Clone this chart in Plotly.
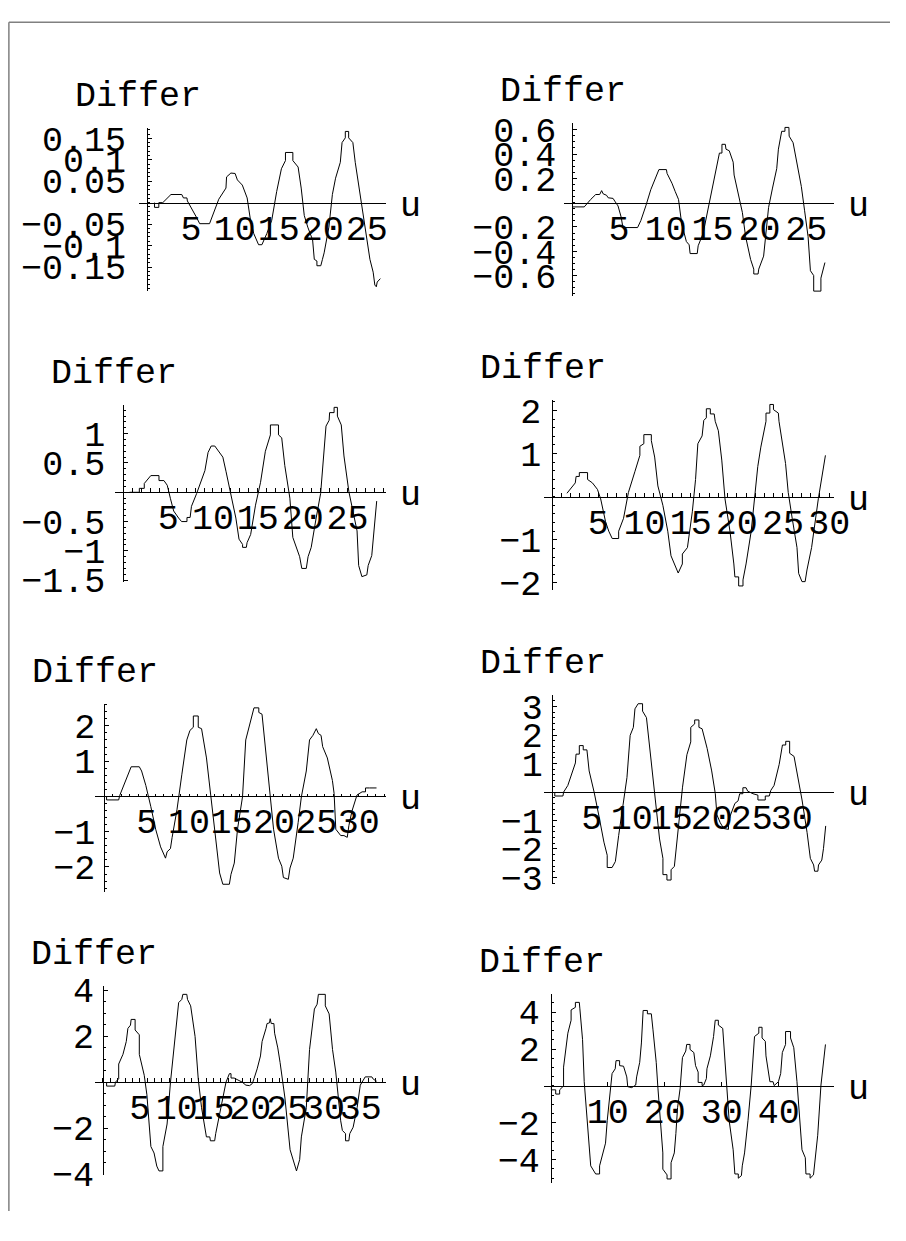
import plotly.graph_objects as go

# ── curve readings for the eight "Differ vs u" panels ───────────────
u1 = [0.86, 0.86, 1.35, 1.35, 1.8, 2.73, 3.96, 4.15, 4.55, 4.6, 5.63, 6.0, 7.12, 7.87, 8.17,
      8.99, 9.06, 9.55, 10.03, 10.29, 10.85, 11.4, 11.78, 12.15, 12.7, 13.08, 13.64, 14.2,
      14.76, 15.3, 15.76, 15.76, 16.6, 16.6, 17.2, 17.55, 17.9, 18.3, 18.85, 19.04, 19.34,
      19.34, 19.78, 19.97, 20.16, 20.7, 21.1, 21.46, 22.0, 22.2, 22.57, 22.57, 22.95, 22.95,
      23.43, 23.7, 24.25, 24.8, 25.37, 25.74, 25.93, 26.1, 26.2, 26.56]
d1 = [0, -0.011, -0.011, 0, 0, 0.019, 0.019, 0.011, 0.011, 0.004, -0.034, -0.049, -0.049,
      -0.011, 0.008, 0.034, 0.060, 0.069, 0.068, 0.053, 0.041, 0.011, -0.041, -0.072, -0.098,
      -0.098, -0.072, -0.041, 0.026, 0.079, 0.098, 0.117, 0.117, 0.098, 0.083, 0.034, -0.030,
      -0.057, -0.087, -0.132, -0.136, -0.147, -0.147, -0.132, -0.117, -0.057, 0.019, 0.057,
      0.094, 0.140, 0.151, 0.166, 0.166, 0.151, 0.140, 0.094, 0.019, -0.057, -0.132, -0.162,
      -0.192, -0.196, -0.185, -0.177]

u2 = [0, 1.29, 1.99, 2.52, 2.94, 3.15, 3.32, 3.67, 3.85, 4.37, 4.55, 4.9, 5.24, 5.42, 6.99,
      7.34, 7.87, 8.4, 9.27, 10.07, 10.14, 10.66, 11.0, 11.36, 11.7, 12.2, 12.5, 12.6, 13.36,
      13.46, 13.99, 14.5, 14.86, 15.2, 15.55, 15.73, 16.0, 16.0, 16.36, 16.43, 16.78, 17.2,
      17.3, 17.83, 18.18, 18.53, 19.06, 19.4, 19.4, 19.86, 19.93, 20.45, 20.98, 21.4, 21.85,
      22.03, 22.38, 22.73, 22.73, 23.15, 23.18, 23.6, 23.95, 24.48, 24.83, 25.2, 25.45, 25.8,
      25.8, 26.57, 26.57, 27.0]
d2 = [-0.035, -0.035, 0.027, 0.067, 0.067, 0.099, 0.072, 0.061, 0.04, 0.035, 0.013, -0.027,
      -0.12, -0.205, -0.205, -0.147, -0.027, 0.107, 0.272, 0.272, 0.24, 0.16, 0.093, 0.027,
      -0.173, -0.32, -0.347, -0.419, -0.419, -0.355, -0.253, -0.053, 0.067, 0.227, 0.333,
      0.408, 0.408, 0.48, 0.48, 0.44, 0.427, 0.333, 0.227, 0.04, -0.08, -0.28, -0.467, -0.547,
      -0.587, -0.587, -0.547, -0.44, -0.04, 0.12, 0.28, 0.44, 0.587, 0.587, 0.619, 0.619,
      0.547, 0.493, 0.36, 0.133, -0.067, -0.28, -0.56, -0.6, -0.728, -0.728, -0.621, -0.493]

u3 = [0.7, 1.79, 1.79, 2.34, 2.34, 3.07, 3.98, 3.98, 4.53, 4.9, 5.26, 5.62, 6.17, 6.5, 7.1,
      7.1, 7.45, 7.6, 8.18, 8.72, 9.1, 9.45, 9.8, 10.2, 10.55, 11.1, 11.46, 12.0, 12.55, 12.9,
      13.3, 13.3, 13.72, 13.8, 14.2, 14.74, 15.3, 15.84, 16.4, 16.4, 17.3, 17.3, 17.66, 18.0,
      18.57, 18.9, 19.3, 19.66, 19.9, 20.4, 20.6, 20.95, 21.5, 22.0, 22.6, 22.95, 23.0, 23.5,
      23.5, 23.87, 23.87, 24.3, 24.6, 25.15, 26.06, 26.24, 26.6, 27.15, 27.3, 27.7, 28.25]
d3 = [0, 0, 0.067, 0.067, 0.15, 0.285, 0.285, 0.2, 0.2, 0.12, -0.11, -0.32, -0.44, -0.5,
      -0.5, -0.43, -0.43, -0.24, -0.02, 0.2, 0.37, 0.68, 0.79, 0.79, 0.71, 0.6, 0.35, -0.05,
      -0.44, -0.8, -0.89, -0.94, -0.94, -0.86, -0.72, -0.22, 0.17, 0.7, 0.98, 1.15, 1.15,
      0.98, 0.93, 0.46, -0.1, -0.77, -0.94, -1.1, -1.3, -1.3, -1.1, -0.94, -0.44, -0.02,
      1.13, 1.23, 1.36, 1.36, 1.45, 1.45, 1.3, 1.15, 0.62, 0.01, -0.66, -1.25, -1.44, -1.41,
      -1.25, -1.08, -0.15]

u4 = [1.6, 2.06, 2.5, 2.59, 2.94, 2.94, 3.83, 3.83, 4.36, 4.9, 5.25, 5.78, 6.13, 6.5, 7.2,
      7.2, 7.73, 8.26, 8.6, 8.97, 9.5, 9.5, 9.93, 9.93, 10.74, 10.74, 11.1, 11.45, 11.99,
      12.52, 12.87, 13.2, 13.65, 14.1, 14.1, 14.65, 15.18, 15.53, 15.78, 16.24, 16.42, 16.7,
      16.7, 17.13, 17.13, 17.55, 17.66, 18.0, 18.37, 18.72, 19.26, 19.68, 19.79, 20.2, 20.2,
      20.67, 20.67, 21.0, 21.56, 22.27, 22.6, 23.16, 23.16, 23.58, 23.58, 23.97, 23.97, 24.5,
      24.57, 25.28, 25.57, 26.0, 26.52, 26.7, 27.06, 27.4, 27.6, 28.1, 28.83, 29.6]
d4 = [0.08, 0.21, 0.32, 0.47, 0.47, 0.56, 0.56, 0.4, 0.32, 0.17, -0.05, -0.58, -0.8, -0.97,
      -0.97, -0.8, -0.5, 0.1, 0.32, 0.59, 0.96, 1.17, 1.23, 1.44, 1.44, 1.3, 0.92, 0.25, -0.2,
      -0.8, -1.37, -1.56, -1.77, -1.56, -1.33, -1.18, -0.35, 0.4, 1.23, 1.41, 1.77, 1.83, 2.04,
      2.04, 1.92, 1.92, 1.75, 1.53, 0.85, -0.05, -0.8, -1.56, -1.86, -1.86, -2.07, -2.07,
      -1.93, -1.56, -0.8, 0.7, 1.15, 1.75, 1.94, 1.94, 2.14, 2.14, 2.02, 1.94, 1.75, 0.77,
      0.1, -0.5, -1.18, -1.78, -1.97, -1.97, -1.7, -1.18, -0.05, 0.96]

u5 = [0.27, 0.27, 1.7, 1.81, 3.17, 4.13, 4.4, 4.9, 5.48, 6.06, 6.64, 7.22, 7.41, 7.8, 8.0,
      8.57, 9.15, 9.73, 10.1, 10.5, 10.5, 11.08, 11.08, 11.47, 12.05, 12.6, 13.2, 13.6, 13.98,
      14.75, 14.94, 15.33, 15.71, 16.3, 16.68, 17.26, 17.45, 17.65, 18.22, 18.22, 18.6, 19.0,
      19.57, 19.96, 20.54, 20.93, 21.12, 21.7, 21.9, 22.28, 22.86, 23.24, 23.82, 24.2, 24.6,
      25.0, 25.25, 25.56, 25.75, 26.3, 26.9, 27.1, 27.3, 27.88, 28.26, 28.65, 28.84, 29.2,
      29.8, 30.4, 30.8, 30.8, 31.27, 32.1]
d5 = [0, -0.1, -0.1, 0.02, 0.84, 0.84, 0.72, 0.31, -0.28, -0.93, -1.43, -1.75, -1.57, -1.48,
      -1.16, -0.38, 0.63, 1.6, 1.87, 1.96, 2.28, 2.28, 1.96, 1.92, 1.09, -0.01, -1.29, -2.17,
      -2.49, -2.49, -2.21, -1.89, -0.93, -0.01, 1.6, 2.15, 2.38, 2.51, 2.51, 2.38, 2.33, 1.37,
      -0.01, -0.93, -1.75, -1.98, -2.3, -2.35, -2.03, -1.75, -0.74, -0.01, 0.72, 1.6, 1.73,
      1.92, 1.78, 1.73, 1.41, 1.09, 0.45, 0.08, -0.93, -1.11, -1.11, -1.16, -0.83, -0.42, 0.04,
      0.13, 0.13, 0.24, 0.24, 0.24]

u6 = [0.37, 0.37, 1.39, 1.48, 2.0, 2.6, 2.95, 3.03, 3.44, 3.44, 3.93, 3.93, 4.39, 4.67, 5.29,
      5.9, 6.52, 6.93, 6.93, 7.54, 7.95, 8.36, 8.98, 9.4, 9.8, 10.2, 10.4, 10.8, 11.35, 11.35,
      11.84, 12.25, 12.87, 13.48, 13.9, 13.9, 14.4, 14.4, 14.92, 14.92, 15.33, 15.74, 16.35,
      16.9, 17.17, 17.38, 17.38, 17.87, 17.87, 18.4, 18.4, 18.8, 19.43, 20.0, 20.45, 20.65,
      21.07, 21.5, 22.1, 22.1, 22.3, 22.9, 23.3, 23.5, 23.9, 23.9, 24.3, 24.5, 25.16, 25.78,
      25.78, 26.7, 26.7, 27.2, 27.4, 27.8, 28.44, 28.85, 28.85, 29.26, 29.26, 29.75, 29.75,
      30.3, 30.7, 31.3, 31.93, 32.34, 32.75, 32.87, 33.28, 33.36, 33.77, 33.98, 34.26]
d6 = [0, -0.14, -0.14, 0, 0.23, 0.74, 1.02, 1.33, 1.33, 1.63, 1.63, 1.48, 1.48, 0.74, 0,
      -0.85, -1.76, -2.22, -2.65, -2.65, -2.44, -1.53, -0.4, 0.51, 1.99, 2.27, 2.92, 3.1, 3.1,
      2.84, 2.61, 1.53, -0.06, -1.65, -2.33, -2.9, -2.9, -3.09, -3.09, -2.73, -2.61, -1.53,
      0.17, 1.31, 1.59, 1.76, 2.27, 2.39, 2.53, 2.53, 2.27, 2.22, 1.53, 0.74, -0.06, -0.8,
      -1.08, -1.28, -1.31, -1.08, -0.85, -0.4, -0.31, -0.06, -0.06, 0.15, 0.15, 0.03, -0.06,
      -0.11, -0.28, -0.28, -0.14, -0.14, 0.06, 0.23, 0.97, 1.53, 1.65, 1.65, 1.78, 1.78, 1.36,
      1.25, 0.63, -0.28, -1.42, -2.33, -2.56, -2.78, -2.78, -2.56, -2.39, -1.99, -1.19]

u7 = [0.49, 0.49, 1.6, 1.69, 2.13, 2.13, 2.71, 3.16, 3.38, 3.73, 3.82, 4.36, 4.36, 4.93,
      4.93, 5.6, 5.96, 6.5, 6.93, 7.3, 7.6, 8.13, 8.13, 8.7, 9.16, 9.6, 10.27, 10.7, 10.84,
      11.38, 11.47, 11.9, 12.5, 12.93, 13.38, 14.04, 14.5, 14.58, 15.16, 15.3, 15.8, 16.5,
      16.7, 17.16, 17.38, 17.38, 17.8, 18.9, 19.4, 19.9, 20.27, 20.5, 20.93, 21.38, 21.6,
      22.13, 22.27, 22.6, 22.7, 22.84, 23.2, 23.3, 23.73, 24.04, 24.7, 25.4, 25.8, 26.27,
      26.7, 26.93, 27.6, 28.04, 28.7, 29.07, 29.24, 30.18, 30.18, 30.7, 31.16, 31.6, 32.27,
      32.5, 32.93, 32.93, 33.38, 33.5, 33.96, 34.5, 34.93, 35.16, 35.6, 36.5, 36.7, 37.16]
d7 = [0, -0.17, -0.17, 0, 0.15, 0.79, 1.21, 1.77, 2.34, 2.48, 2.73, 2.73, 2.27, 2.06, 1.21,
      0.3, -0.55, -2.8, -3.08, -3.65, -3.86, -3.86, -2.8, -1.82, 0, 1.28, 3.46, 3.6, 3.82,
      3.82, 3.6, 3.32, 1.99, 0.14, -1.11, -2.38, -2.38, -2.55, -2.55, -2.24, -1.39, -0.27, 0,
      0.37, 0.37, 0.18, 0.18, 0, -0.13, -0.15, -0.06, 0.15, 0.58, 1.14, 1.77, 2.34, 2.55,
      2.58, 2.76, 2.55, 2.55, 2.13, 1.49, 0.86, -0.69, -2.94, -3.37, -3.86, -3.37, -2.38,
      -1.11, 1.42, 3.18, 3.39, 3.82, 3.82, 3.32, 2.97, 1.42, 0.44, -1.68, -2.1, -2.24, -2.55,
      -2.55, -2.24, -1.96, -1.11, -0.13, 0, 0.23, 0.23, 0.13, 0.04]

u8 = [0.1, 0.1, 0.86, 0.86, 1.55, 1.55, 2.24, 2.24, 2.99, 3.56, 3.56, 4.31, 4.31, 5.0, 5.1,
      5.57, 5.86, 6.44, 7.0, 7.87, 8.56, 8.56, 9.6, 9.9, 10.46, 10.75, 11.3, 11.44, 12.07,
      12.07, 12.76, 13.33, 13.5, 14.2, 14.9, 15.06, 15.6, 15.9, 16.2, 16.95, 16.95, 17.64,
      17.93, 18.5, 18.8, 19.37, 19.66, 19.66, 20.4, 20.4, 21.1, 21.1, 21.67, 21.95, 22.24,
      22.7, 23.1, 23.1, 23.68, 23.85, 24.43, 24.43, 25.1, 25.4, 25.86, 25.86, 26.55, 26.55,
      26.84, 27.3, 27.4, 28.0, 28.56, 28.85, 29.4, 29.4, 30.17, 30.6, 30.86, 31.3, 32.0, 32.3,
      32.9, 32.9, 33.45, 33.6, 34.0, 34.6, 35.17, 35.75, 36.5, 36.5, 37.07, 37.07, 37.64,
      37.76, 38.45, 39.0, 39.2, 39.94, 40.34, 40.63, 41.2, 41.2, 42.07, 42.07, 42.64, 43.2,
      43.5, 44.08, 44.66, 44.77, 45.5, 45.5, 46.1, 46.26, 46.84, 47.41, 48.2]
d8 = [0, -0.21, -0.21, -0.44, -0.44, -0.21, 0, 1.02, 2.86, 3.56, 4.12, 4.26, 4.53, 4.53,
      4.18, 2.51, 0.23, -1.88, -4.33, -4.77, -4.77, -4.33, -3.1, -1.88, 0.05, 0.67, 0.93,
      1.37, 1.37, 1.1, 1.07, 0.49, -0.04, -0.09, 0.05, 0.49, 1.28, 2.33, 4.09, 4.09, 3.91,
      3.91, 3.04, 1.28, -0.12, -2.58, -3.63, -4.51, -4.82, -5.04, -5.04, -4.16, -3.63, -2.58,
      -1.18, -0.12, 1.28, 1.54, 1.89, 2.25, 2.25, 1.98, 1.81, 1.1, 0.75, 0.19, 0.19, 0.02,
      0.05, 0.4, 0.93, 1.63, 2.68, 3.56, 3.56, 3.3, 3.12, 1.46, 0.05, -1.88, -3.46, -4.77,
      -4.77, -5.0, -4.86, -4.33, -3.63, -1.88, 0.05, 2.68, 2.86, 3.18, 3.18, 2.6, 2.42, 1.63,
      0.23, 0.23, 0.02, 0.23, 0.67, 1.81, 2.25, 2.95, 2.95, 2.6, 2.07, 0.23, -1.18, -3.46,
      -3.89, -4.77, -4.77, -5.0, -4.82, -4.33, -2.67, 0.05, 2.25]

# tick values per panel (0 is never labelled)
x_ticks = [
    [5, 10, 15, 20, 25], [5, 10, 15, 20, 25], [5, 10, 15, 20, 25], [5, 10, 15, 20, 25, 30],
    [5, 10, 15, 20, 25, 30], [5, 10, 15, 20, 25, 30], [5, 10, 15, 20, 25, 30, 35],
    [10, 20, 30, 40],
]
y_ticks = [
    [-0.15, -0.1, -0.05, 0.05, 0.1, 0.15], [-0.6, -0.4, -0.2, 0.2, 0.4, 0.6],
    [-1.5, -1, -0.5, 0.5, 1], [-2, -1, 1, 2], [-2, -1, 1, 2], [-3, -2, -1, 1, 2, 3],
    [-4, -2, 2, 4], [-4, -2, 2, 4],
]

series = [(u1, d1), (u2, d2), (u3, d3), (u4, d4), (u5, d5), (u6, d6), (u7, d7), (u8, d8)]

# the page body keeps its 8px default margin, so the figure is drawn 8px in
OFF = 8
W, H = 906 - OFF, 1241 - 2 * OFF
FONT = "Liberation Mono"

# panel geometry in page pixels: left, right, top, bottom of the axis lines
panels = [
    dict(box=(141.7, 393.3, 117.7, 286), xr=[-0.87, 27.25], yr=[-0.206, 0.175],
         xminor=1, yminor=0.01, xlen=(0, 0), ystand=14),
    dict(box=(573.7, 849, 113.3, 290.7), xr=[-0.91, 27.97], yr=[-0.765, 0.653],
         xminor=1, yminor=0.05, xlen=(0, 0), ystand=9),
    dict(box=(116.7, 392.7, 403.3, 586), xr=[-0.95, 29.27], yr=[-1.54, 1.49],
         xminor=1, yminor=0.1, xlen=(4, 4), ystand=11),
    dict(box=(553.7, 849, 398.3, 594), xr=[-0.89, 30.53], yr=[-2.17, 2.24],
         xminor=1, yminor=0.2, xlen=(4, 4), ystand=4),
    dict(box=(96.7, 392.7, 710.7, 905), xr=[-1.08, 33.2], yr=[-2.72, 2.63],
         xminor=1, yminor=0.2, xlen=(2, 2), ystand=2),
    dict(box=(553.7, 849, 701.7, 896.7), xr=[-0.98, 35.3], yr=[-3.24, 3.41],
         xminor=1, yminor=0.2, xlen=(0, 0), ystand=2),
    dict(box=(96.7, 392.7, 1001.7, 1196), xr=[-1.07, 38.4], yr=[-4.04, 4.17],
         xminor=1, yminor=0.5, xlen=(4, 4), ystand=2),
    dict(box=(553.7, 849, 1009.3, 1204), xr=[-1.2, 49.7], yr=[-5.25, 5.0],
         xminor=2, yminor=0.5, xlen=(4, 0), ystand=4),
]


def px_x(v):
    return (v - OFF) / W


def px_y(v):
    return 1 - (v - OFF) / H


def label(v):
    return f"{v:g}".replace("-", "\u2212")


fig = go.Figure()
annotations = []

for i, (p, (u, d)) in enumerate(zip(panels, series), 1):
    assert len(u) == len(d), (i, len(u), len(d))
    sx = "" if i == 1 else str(i)
    left, right, top, bottom = p["box"]
    xr, yr = p["xr"], p["yr"]
    dom_x = [px_x(left), px_x(right)]
    dom_y = [px_y(bottom), px_y(top)]
    # put the axes through the origin, as Mathematica does
    xpos = dom_y[0] + (0 - yr[0]) / (yr[1] - yr[0]) * (dom_y[1] - dom_y[0])
    ypos = dom_x[0] + (0 - xr[0]) / (xr[1] - xr[0]) * (dom_x[1] - dom_x[0])

    fig.add_trace(go.Scatter(
        x=u, y=d, mode="lines",
        line=dict(color="black", width=1),
        xaxis="x" + sx, yaxis="y" + sx,
        showlegend=False, hoverinfo="skip",
    ))

    common = dict(
        showgrid=False, zeroline=False, showline=True,
        linecolor="black", linewidth=1,
        ticks="inside", tickcolor="black", tickwidth=1,
        tickfont=dict(family=FONT, size=35, color="black"),
        tickangle=0, anchor="free", fixedrange=True,
        tickmode="array",
    )
    xl, xm = p["xlen"]
    fig.layout["xaxis" + sx] = dict(
        domain=dom_x, range=xr, position=xpos,
        tickvals=x_ticks[i - 1], ticktext=[label(v) for v in x_ticks[i - 1]],
        ticklen=xl, ticklabelstandoff=-6,
        minor=dict(dtick=p["xminor"], tick0=0, ticks="inside" if xm else "",
                   ticklen=max(xm, 1), tickcolor="black"),
        **common,
    )
    fig.layout["yaxis" + sx] = dict(
        domain=dom_y, range=yr, position=ypos,
        tickvals=y_ticks[i - 1], ticktext=[label(v) for v in y_ticks[i - 1]],
        ticklen=4, ticklabelstandoff=p["ystand"],
        minor=dict(dtick=p["yminor"], tick0=0, ticks="inside", ticklen=2,
                   tickcolor="black"),
        **common,
    )

    annotations.append(dict(
        text="Differ", xref="x" + sx, yref="y" + sx, x=0, y=yr[1],
        xanchor="center", yanchor="bottom", xshift=-9, yshift=9,
        showarrow=False, font=dict(family=FONT, size=35, color="black"),
    ))
    annotations.append(dict(
        text="u", xref="x" + sx, yref="y" + sx, x=xr[1], y=0,
        xanchor="left", yanchor="middle", xshift=12, yshift=-4,
        showarrow=False, font=dict(family=FONT, size=35, color="black"),
    ))

fig.update_layout(
    width=W, height=H,
    margin=dict(l=0, r=0, t=0, b=0),
    paper_bgcolor="white", plot_bgcolor="rgba(0,0,0,0)",
    annotations=annotations,
    shapes=[
        dict(type="line", xref="paper", yref="paper", x0=0.001, x1=0.001, y0=0, y1=0.999,
             line=dict(color="#808080", width=1.5)),
        dict(type="line", xref="paper", yref="paper", x0=0.001, x1=1, y0=0.999, y1=0.999,
             line=dict(color="#808080", width=1.5)),
    ],
)

fig.write_html("out.html")
